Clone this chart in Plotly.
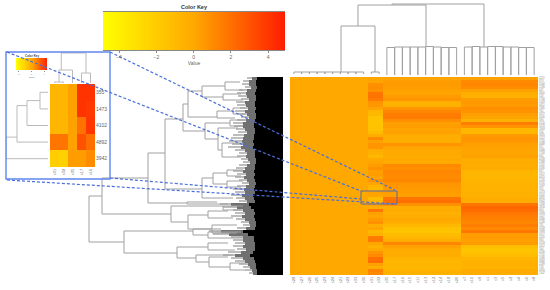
import plotly.graph_objects as go

# ---------- main heat map data ----------
col_labels = ["s28","s27","s26","s25","s23","s24","s21","s22","s33","s30",
              "s31","s32","s35","s17","s16","s15","s11","s13","s12","s14","s18","s20",
              "s7","s10","s9","s1","s3","s5","s2","s4","s6","s8"]
row_labels = ["2211","873","3104","1290","447","3620","518","2764","1033","4411",
              "1985","762","3377","2045","590","4120","1678","2903","316","3825",
              "1142","2550","4688","921","3066","1734","605","4239","2388","1501",
              "3590","837","2672","4015","1216","3741","2097","355","1473","4102",
              "4892","3942","1358","2816","694","3499","1027","4366","2130","781",
              "3258","1869","4577","2425","963","3133","1612","504","4290","2741",
              "1096","3684","2289","728","4455","1547"]
group_a_value = 0.0
group_b = [.1,.15,.8,.95,.8,1.75,1.9,1.6,.7,.55,.15,-.8,-.9,-1.5,-1.6,-1.5,-1.5,-1.4,-1.05,-.35,1.05,.25,.65,.7,-.35,-.45,-.9,0,.15,.4,.8,.3,.4,.15,
           .7,.15,-.7,-.8,.25,.1,-1.05,-.7,.3,-.2,1.75,.25,.15,.5,.8,-.35,.15,-.9,-.5,1.6,1.6,.1,-.5,0,.7,1.1,2.0,2.1,.25,-.35,1.3,1.1]
group_c = [.15,.4,.5,.4,.2,.15,.45,.75,-.45,-.5,.7,1.2,1.5,1.6,.9,.3,.4,.15,.2,-.2,-.35,-.35,.75,.15,-.1,0,-.2,0,-.1,1.05,.9,1.2,1.1,1.0,
           1.2,.75,.6,.45,.4,.3,1.8,2.0,.8,-.35,-.25,-.45,-.2,0,-.35,-.85,-1.4,-1.6,-1.05,-.85,-.25,1.2,.2,-.1,-.35,-.2,-.6,-.85,-.7,-.8,-.6,-.5]
group_d = [.2,1.05,1.2,1.0,.2,-.35,-.45,.4,.6,.5,.9,.75,.3,.1,-.5,1.5,.75,-.85,-.85,.5,.7,.6,.3,.2,.15,.1,.2,-.2,-.25,-.35,-.25,-.7,-.8,-.8,
           -.7,-.6,-.5,-.45,-.5,-.45,-.35,-.25,1.8,2.3,2.1,1.7,1.5,1.35,1.2,1.5,1.1,1.7,.4,.5,.3,.4,-1.3,-1.6,-1.4,-1.1,-.7,-.5,-.45,-.6,-.25,-.25]
group_sizes = [10, 2, 10, 10]

# ---------- colour key ----------
key_values = [-4.9,-4.55,-4.2,-3.85,-3.5,-3.15,-2.8,-2.45,-2.1,-1.75,-1.4,-1.05,-.7,-.35,0,
              .35,.7,1.05,1.4,1.75,2.1,2.45,2.8,3.15,3.5,3.85,4.2,4.55,4.9]
key_ticks = [-4,-2,0,2,4]
heat_scale = [[0,"#ffff00"],[.5,"#ffa800"],[1,"#ff1c00"]]

# ---------- left dendrogram: (parent height, child pos, child height, child pos, child height) ----------
row_links = [
 (194,119,181,165,159),(181,101,135,137,112),(159,154,90,176,106),(135,76,118,126,96),
 (118,42,100,112,81),(100,27,95,54,78),(95,14,81,40,66),(81,9,58,20,60),(66,34,50,41,48),
 (78,46,53,62,65),(65,51,45,73,61),(61,66,40,80,42),(81,101,70,121,50),(70,96,56,107,56),
 (58,5,43,13,40),(60,17,42,23,40),(50,31,38,37,38),(56,93,40,99,42),(56,104,40,110,42),
 (53,43,38,49,40),(112,129,60,145,95),(95,138,75,152,71),(75,134,55,141,50),(71,148,46,156,46),
 (90,152,62,158,75),(75,155,42,161,40),(106,170,75,181,87),(75,166,55,173,48),
 (87,178,50,185,74),(74,180,55,190,53),(53,186,38,193,38),(96,125,66,127,55),(60,129,40,133,42),
]
fringe_outer = [36,40,41,38,44,46,45,42,47,46,43,48,44,42,46,50,49,47,45,50,52,54,51,55,48,44,46,42,40,44,47,50,46,
                48,44,41,46,50,48,52,47,44,63,60,50,48,52,47,42,40,46,74,70,52,50,48,50,46,55,60,52,48,44,40,38,34]
fringe_mid = [31,34,34,32,36,37,36,34,38,37,35,38,36,34,37,40,40,38,36,39,40,41,40,42,38,36,37,35,33,36,38,40,37,
              39,36,34,37,39,38,41,38,36,52,46,40,38,41,38,34,33,37,62,54,40,40,38,40,37,42,48,40,38,35,33,31,30]
fringe_black = [26,27,27,26,27,28,27,27,28,28,27,28,27,27,28,29,29,28,28,29,29,30,29,30,28,28,28,27,27,28,28,29,28,
                29,28,27,28,29,28,30,29,28,34,32,29,28,29,28,27,27,28,40,35,29,29,28,28,28,30,33,29,28,27,27,26,26]

# ---------- top dendrogram: (parent height, child col, child height, child col, child height) ----------
col_links = [
 (73,12.66,72,24.53,30),(72,8.27,51,17.05,30),(51,6.08,5,10.47,5),
 (5,0,3,1,3),(5,1,3,2,3),(5,2,3,3,3),(5,3,3,4,3),(5,4,3,5,3),(5,5,3,6,3),(5,6,3,7,3),(5,7,3,8,3),(5,8,3,9,3),
 (5,10,3,11,3),
 (29.5,12,2,13,2),(30,13,2,14,2),(30,14,2,15,2),(30,15,2,16,2),(30,16,2,17,2),
 (30.5,17,2,18,2),(30,18,2,19,2),(29.5,19,2,20,2),(29.5,20,2,21,2),
 (30,22,2,23,2),(30.5,23,2,24,2),(30,24,2,25,2),(30.5,25,2,26,2),(30.5,26,2,27,2),
 (30,27,2,28,2),(30,28,2,29,2),(29.5,29,2,30,2),(29.5,30,2,31,2),
]

# ---------- inset ----------
inset_cols = ["s31","s32","s35","s17","s16"]
inset_rows = ["355","1473","4102","4892","3942"]
inset_z = [[-.8,-.8,.2,4.1,4.1],
           [-.8,-.8,.2,4.1,3.9],
           [-.8,-.8,.2,1.9,4.0],
           [1.8,1.8,.2,3.0,2.0],
           [-2.1,-2.3,.4,.4,1.0]]
inset_col_links = [(31,.75,14,3.5,11),(14,.5,2,2,1),(2,0,1,1,1),(11,3,1,4,1)]
inset_row_links = [(42,2.7,31,4,0),(31,.8,21,3,0),(21,.5,8,2,0),(8,0,0,1,0)]
inset_key_ticks = [-4,0,4]

LINE = "#a0a0a0"
FONT = "Liberation Sans, Arial, sans-serif"
W, H = 550, 290
def dx(a, b): return [a / W, b / W]
def dy(top, bottom): return [1 - bottom / H, 1 - top / H]

def elbows(links, horizontal):
    xs, ys = [], []
    for hp, p1, h1, p2, h2 in links:
        hh = [h1, hp, hp, h2, None]
        pp = [p1, p1, p2, p2, None]
        if horizontal:
            xs += hh; ys += pp
        else:
            xs += pp; ys += hh
    return xs, ys

fig = go.Figure()
layout = dict(width=W, height=H, margin=dict(l=0, r=0, t=0, b=0), paper_bgcolor="white",
              plot_bgcolor="rgba(0,0,0,0)", showlegend=False, barmode="overlay", bargap=0,
              font=dict(family=FONT, color="#555"))
OFF = dict(visible=False, fixedrange=True)

# colour key (axes 1)
fig.add_trace(go.Heatmap(z=[key_values], x=key_values, y=[0], colorscale=heat_scale, zmin=-4.9, zmax=4.9,
                         showscale=False, zsmooth="best", xaxis="x", yaxis="y"))
layout["xaxis"] = dict(domain=dx(103, 285), range=[-4.86, 4.9], tickvals=key_ticks, ticks="outside", ticklen=2,
                       tickwidth=.6, tickcolor="#888", showgrid=False, zeroline=False, showline=True, linecolor="#888",
                       linewidth=.6, tickfont=dict(size=5, color="#666"), anchor="y", mirror=True,
                       title=dict(text="Value", font=dict(size=5, color="#666"), standoff=1))
layout["yaxis"] = dict(domain=dy(12, 50), **OFF, anchor="x")

# main heat map (axes 2)
z_rows = []
for i in range(len(row_labels)):
    z_rows.append([group_a_value] * group_sizes[0] + [group_b[i]] * group_sizes[1]
                  + [group_c[i]] * group_sizes[2] + [group_d[i]] * group_sizes[3])
fig.add_trace(go.Heatmap(z=z_rows, colorscale=heat_scale, zmin=-4.9, zmax=4.9, showscale=False,
                         x=col_labels, y=row_labels, xaxis="x2", yaxis="y2"))
layout["xaxis2"] = dict(domain=dx(290, 538), type="category", tickangle=-90, tickfont=dict(size=4, color="#777"),
                        showgrid=False, ticks="", zeroline=False, anchor="y2", automargin=False,
                        tickmode="array", tickvals=col_labels, ticktext=col_labels)
layout["yaxis2"] = dict(domain=dy(77, 275), type="category", autorange="reversed", side="right",
                        tickfont=dict(size=2.6, color="#888"), showgrid=False, ticks="", zeroline=False,
                        anchor="x2", tickmode="array", tickvals=row_labels, ticktext=row_labels, automargin=False)

# left dendrogram (axes 3)
rows_p = [3 * i + 1.5 for i in range(len(fringe_outer))]
x3, y3 = elbows(row_links, True)
fig.add_trace(go.Scatter(x=x3, y=y3, mode="lines", line=dict(color=LINE, width=1), xaxis="x3", yaxis="y3", hoverinfo="skip"))
for vals, colr, bw in [(fringe_outer, "#bdbdbd", 1.5), (fringe_mid, "#707070", 2.2), (fringe_black, "#000000", 3)]:
    fig.add_trace(go.Bar(x=vals, y=rows_p, orientation="h", width=bw, marker=dict(color=colr, line=dict(width=0)),
                         xaxis="x3", yaxis="y3", hoverinfo="skip"))
layout["xaxis3"] = dict(domain=dx(85, 283), range=[198, 0], anchor="y3", **OFF)
layout["yaxis3"] = dict(domain=dy(77, 275), range=[198, 0], anchor="x3", **OFF)

# top dendrogram (axes 4)
x4, y4 = elbows(col_links, False)
fig.add_trace(go.Scatter(x=x4, y=y4, mode="lines", line=dict(color=LINE, width=1), xaxis="x4", yaxis="y4", hoverinfo="skip"))
layout["xaxis4"] = dict(domain=dx(290, 538), range=[-.5, 31.5], anchor="y4", **OFF)
layout["yaxis4"] = dict(domain=dy(0, 77), range=[0, 77], anchor="x4", **OFF)

# inset heat map (axes 5)
fig.add_trace(go.Heatmap(z=inset_z, x=inset_cols, y=inset_rows, colorscale=heat_scale, zmin=-4.9, zmax=4.9,
                         showscale=False, xaxis="x5", yaxis="y5"))
layout["xaxis5"] = dict(domain=dx(50, 95), type="category", tickangle=-90, tickfont=dict(size=4, color="#666"),
                        showgrid=False, ticks="", zeroline=False, anchor="y5", tickmode="array",
                        tickvals=inset_cols, ticktext=inset_cols)
layout["yaxis5"] = dict(domain=dy(84, 167), type="category", autorange="reversed", side="right",
                        tickfont=dict(size=5, color="#666"), showgrid=False, ticks="", zeroline=False, anchor="x5",
                        tickmode="array", tickvals=inset_rows, ticktext=inset_rows)

# inset top dendrogram (axes 6)
x6, y6 = elbows(inset_col_links, False)
fig.add_trace(go.Scatter(x=x6, y=y6, mode="lines", line=dict(color="#bbbbbb", width=1), xaxis="x6", yaxis="y6", hoverinfo="skip"))
layout["xaxis6"] = dict(domain=dx(50, 95), range=[-.5, 4.5], anchor="y6", **OFF)
layout["yaxis6"] = dict(domain=dy(52, 84), range=[0, 32], anchor="x6", **OFF)

# inset left dendrogram (axes 7)
x7, y7 = elbows(inset_row_links, True)
fig.add_trace(go.Scatter(x=x7, y=y7, mode="lines", line=dict(color="#bbbbbb", width=1), xaxis="x7", yaxis="y7", hoverinfo="skip"))
layout["xaxis7"] = dict(domain=dx(6, 48), range=[42, 0], anchor="y7", **OFF)
layout["yaxis7"] = dict(domain=dy(84, 167), range=[4.5, -.5], anchor="x7", **OFF)

# inset colour key (axes 8)
fig.add_trace(go.Heatmap(z=[key_values], x=key_values, y=[0], colorscale=heat_scale, zmin=-4.9, zmax=4.9,
                         showscale=False, zsmooth="best", xaxis="x8", yaxis="y8"))
layout["xaxis8"] = dict(domain=dx(16, 47), range=[-4.86, 4.9], tickvals=inset_key_ticks, ticks="outside", ticklen=1,
                        tickwidth=.4, tickcolor="#888", showgrid=False, zeroline=False, tickfont=dict(size=2.5, color="#666"),
                        anchor="y8", title=dict(text="Value", font=dict(size=2.5, color="#666"), standoff=0))
layout["yaxis8"] = dict(domain=dy(58, 70), **OFF, anchor="x8")

# annotations and overlay shapes
layout["annotations"] = [
    dict(text="<b>Color Key</b>", x=194 / W, y=1 - 7 / H, xref="paper", yref="paper", showarrow=False,
         font=dict(size=5.5, color="#333"), xanchor="center", yanchor="middle"),
    dict(text="<b>Color Key</b>", x=32 / W, y=1 - 55.5 / H, xref="paper", yref="paper", showarrow=False,
         font=dict(size=3, color="#444"), xanchor="center", yanchor="middle"),
]
def seg(a, b, c, d, color, width, dash="solid", kind="line"):
    return dict(type=kind, xref="paper", yref="paper", x0=a / W, x1=c / W, y0=1 - b / H, y1=1 - d / H,
                line=dict(color=color, width=width, dash=dash), layer="above")
DASH = "#4a6edb"
layout["shapes"] = [
    seg(6, 52, 110, 179, "#5f86f0", 1.4, kind="rect"),
    seg(361, 191, 397, 204, "#5a6aa0", 1, kind="rect"),
    seg(110, 52, 395, 190, DASH, 1.2, "3px,2px"),
    seg(7, 52, 361, 191, DASH, 1.2, "3px,2px"),
    seg(110, 178, 361, 199, DASH, 1.2, "3px,2px"),
    seg(7, 180, 397, 204, DASH, 1.2, "3px,2px"),
]
fig.update_layout(**layout)
fig.write_html("out.html", config=dict(displayModeBar=False),
               post_script="document.body.style.margin='0';")
